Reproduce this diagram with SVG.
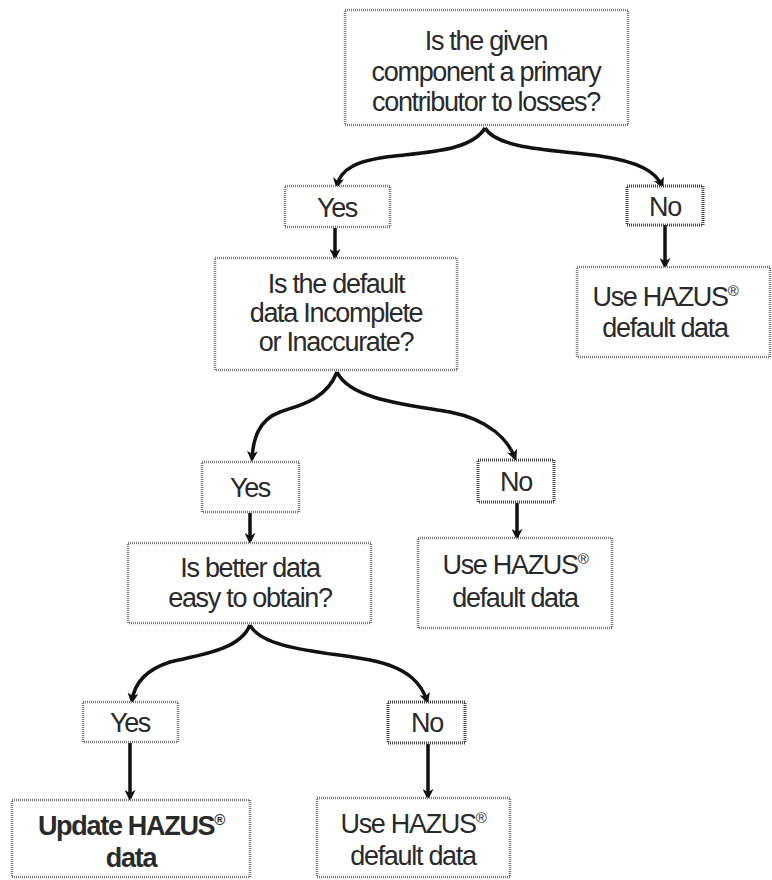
<svg xmlns="http://www.w3.org/2000/svg" width="772" height="880" viewBox="0 0 772 880">
<defs>
<marker id="ah" markerWidth="11" markerHeight="11" refX="8" refY="5.5" orient="auto" markerUnits="userSpaceOnUse" viewBox="0 0 11 11">
<path d="M0,0 L11,5.5 L0,11 L3,5.5 Z" fill="#111"/>
</marker>
</defs>
<style>
.box{fill:#fff;stroke:#7a7a7a;stroke-width:2.5;stroke-dasharray:1 1}
.nob{fill:#fff;stroke:#444;stroke-width:3;stroke-dasharray:1 1}
.t{font-family:"Liberation Sans",Arial,sans-serif;font-size:27px;letter-spacing:-1.3px;fill:#2a2a2a;text-anchor:middle}
.b{font-weight:bold}
.sup{font-size:15px}
.c{fill:none;stroke:#111;stroke-width:3.5;marker-end:url(#ah)}
</style>
<rect width="772" height="880" fill="#fff"/>
<g id="connectors">
<path class="c" d="M485,128 C472,150 430,152 395,156 C355,160 340,170 337,186"/>
<path class="c" d="M485,128 C498,150 560,150 600,156 C640,162 656,172 662,186"/>
<path class="c" d="M335,228 L335,257"/>
<path class="c" d="M665,225 L665,266"/>
<path class="c" d="M337,372 C326,400 300,405 280,412 C258,420 253,440 252,459"/>
<path class="c" d="M337,372 C350,400 410,405 450,412 C490,420 508,440 515,458"/>
<path class="c" d="M250,513 L250,541"/>
<path class="c" d="M517,503 L517,537"/>
<path class="c" d="M250,625 C240,650 200,655 170,662 C145,670 134,685 132,701"/>
<path class="c" d="M250,625 C262,650 330,652 370,660 C410,668 422,685 427,701"/>
<path class="c" d="M130,743 L130,798"/>
<path class="c" d="M428,744 L428,797"/>
</g>
<g id="q1"><rect class="box" x="345" y="10" width="283" height="115"/>
<text class="t" x="486" y="50">Is the given</text>
<text class="t" x="486" y="81">component a primary</text>
<text class="t" x="486" y="111">contributor to losses?</text></g>
<g id="yes1"><rect class="box" x="285" y="186" width="105" height="41"/>
<text class="t" x="337" y="217">Yes</text></g>
<g id="no1"><rect class="nob" x="627" y="186" width="76" height="39"/>
<text class="t" x="665" y="216">No</text></g>
<g id="use1"><rect class="box" x="577" y="267" width="193" height="90"/>
<text class="t" x="665" y="306">Use HAZUS<tspan class="sup" dy="-10">®</tspan></text>
<text class="t" x="665" y="337">default data</text></g>
<g id="q2"><rect class="box" x="215" y="258" width="242" height="112"/>
<text class="t" x="336" y="293">Is the default</text>
<text class="t" x="336" y="322">data Incomplete</text>
<text class="t" x="336" y="351">or Inaccurate?</text></g>
<g id="yes2"><rect class="box" x="202" y="462" width="97" height="50"/>
<text class="t" x="250" y="497">Yes</text></g>
<g id="no2"><rect class="nob" x="478" y="460" width="76" height="42"/>
<text class="t" x="516" y="491">No</text></g>
<g id="q3"><rect class="box" x="128" y="543" width="243" height="80"/>
<text class="t" x="250" y="577">Is better data</text>
<text class="t" x="250" y="607">easy to obtain?</text></g>
<g id="use2"><rect class="box" x="418" y="538" width="194" height="90"/>
<text class="t" x="515" y="574">Use HAZUS<tspan class="sup" dy="-10">®</tspan></text>
<text class="t" x="515" y="607">default data</text></g>
<g id="yes3"><rect class="box" x="83" y="702" width="95" height="40"/>
<text class="t" x="130" y="732">Yes</text></g>
<g id="no3"><rect class="nob" x="388" y="702" width="77" height="41"/>
<text class="t" x="427" y="732">No</text></g>
<g id="update"><rect class="box" x="12" y="800" width="238" height="77"/>
<text class="t b" x="131" y="835">Update HAZUS<tspan class="sup" dy="-10">®</tspan></text>
<text class="t b" x="131" y="867">data</text></g>
<g id="use3"><rect class="box" x="317" y="798" width="193" height="79"/>
<text class="t" x="413" y="833">Use HAZUS<tspan class="sup" dy="-10">®</tspan></text>
<text class="t" x="413" y="865">default data</text></g>
</svg>
